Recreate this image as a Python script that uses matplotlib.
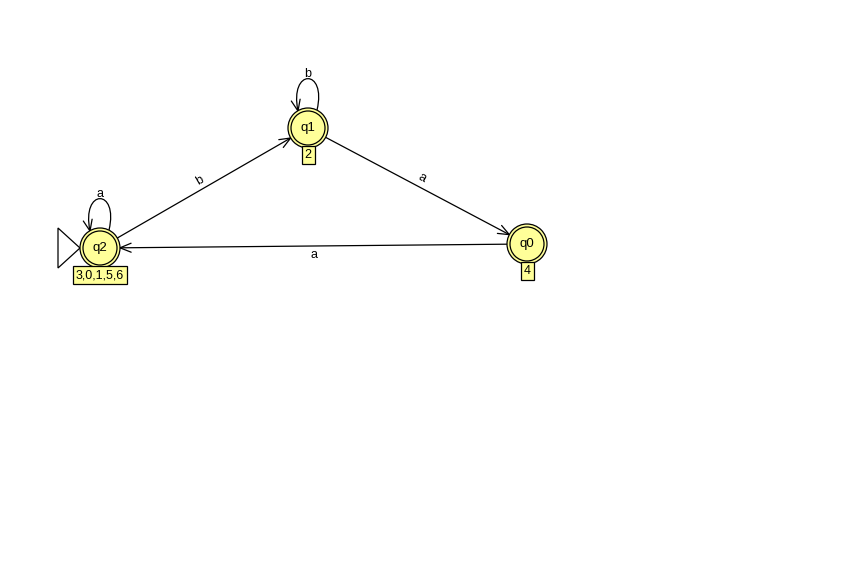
import numpy as np
import matplotlib.pyplot as plt
from matplotlib.patches import Circle, PathPatch, Polygon, Rectangle
from matplotlib.path import Path

plt.rcParams['font.family'] = ['Liberation Sans', 'DejaVu Sans']

# states and their side labels
state_names = ["q0", "q1", "q2"]
state_labels = ["4", "2", "3,0,1,5,6"]
initial_state = "q2"

# transitions: from, to, symbol
trans_from = ["q2", "q1", "q0", "q2", "q1"]
trans_to = ["q1", "q0", "q2", "q2", "q1"]
trans_sym = ["b", "a", "a", "a", "b"]

# layout in pixels (y grows downward)
layout = {"q0": (527, 244), "q1": (308, 128), "q2": (100, 248)}
R = 20
R_IN = 17
FILL = "#ffff99"


def draw_head(ax, tip, direction, length=12, half_angle=22):
    d = np.array(direction, dtype=float)
    d = d / np.linalg.norm(d)
    for s in (1, -1):
        a = np.radians(s * half_angle)
        rot = np.array([[np.cos(a), -np.sin(a)], [np.sin(a), np.cos(a)]])
        back = rot @ (-d) * length
        ax.plot([tip[0], tip[0] + back[0]], [tip[1], tip[1] + back[1]],
                color="black", lw=0.9, solid_capstyle="round", zorder=2)


fig = plt.figure(figsize=(8.6, 5.71), dpi=100)
ax = fig.add_axes([0, 0, 1, 1])
ax.set_xlim(0, 860)
ax.set_ylim(571, 0)
ax.set_aspect("equal")
ax.axis("off")

# edges
for f, t, sym in zip(trans_from, trans_to, trans_sym):
    cx, cy = layout[f]
    if f == t:
        # self loop above the state
        p0 = (cx + 9, cy - 18)
        p3 = (cx - 10, cy - 17)
        c1 = (cx + 19, cy - 60)
        c2 = (cx - 19, cy - 60)
        path = Path([p0, c1, c2, p3], [Path.MOVETO, Path.CURVE4, Path.CURVE4, Path.CURVE4])
        ax.add_patch(PathPatch(path, fill=False, ec="black", lw=0.9, zorder=2))
        draw_head(ax, p3, (p3[0] - c2[0], p3[1] - c2[1]))
        ax.text(cx, cy - 54, sym, ha="center", va="center", fontsize=9)
        continue
    tx, ty = layout[t]
    d = np.array([tx - cx, ty - cy], dtype=float)
    u = d / np.linalg.norm(d)
    start = np.array([cx, cy]) + u * R
    end = np.array([tx, ty]) - u * R
    ax.plot([start[0], end[0]], [start[1], end[1]], color="black", lw=0.9, zorder=2)
    draw_head(ax, end, u)
    mid = (start + end) / 2
    normal = np.array([u[1], -u[0]])
    pos = mid + normal * 9
    ang = np.degrees(np.arctan2(-u[1], u[0]))
    if ang > 90:
        ang -= 180
    elif ang < -90:
        ang += 180
    ax.text(pos[0], pos[1], sym, ha="center", va="center", fontsize=9,
            rotation=ang, rotation_mode="anchor")

# initial arrow triangle
cx, cy = layout[initial_state]
tri = Polygon([(cx - R - 22, cy - 20), (cx - R - 22, cy + 20), (cx - R, cy)],
              closed=True, fill=False, ec="black", lw=0.9, zorder=2)
ax.add_patch(tri)

# states
renderer = fig.canvas.get_renderer()
for name, lab in zip(state_names, state_labels):
    cx, cy = layout[name]
    ax.add_patch(Circle((cx, cy), R, fc=FILL, ec="black", lw=0.9, zorder=3))
    ax.add_patch(Circle((cx, cy), R_IN, fc="none", ec="black", lw=0.9, zorder=4))
    ax.text(cx, cy, name, ha="center", va="center", fontsize=9.5, zorder=5)
    txt = ax.text(cx, cy + 27, lab, ha="center", va="center", fontsize=9, zorder=6)
    w = txt.get_window_extent(renderer).width + 6
    ax.add_patch(Rectangle((cx - w / 2, cy + 17.5), w, 18.5, fc=FILL, ec="black",
                           lw=0.9, zorder=5.5))

fig.savefig("out.png", dpi=100)
